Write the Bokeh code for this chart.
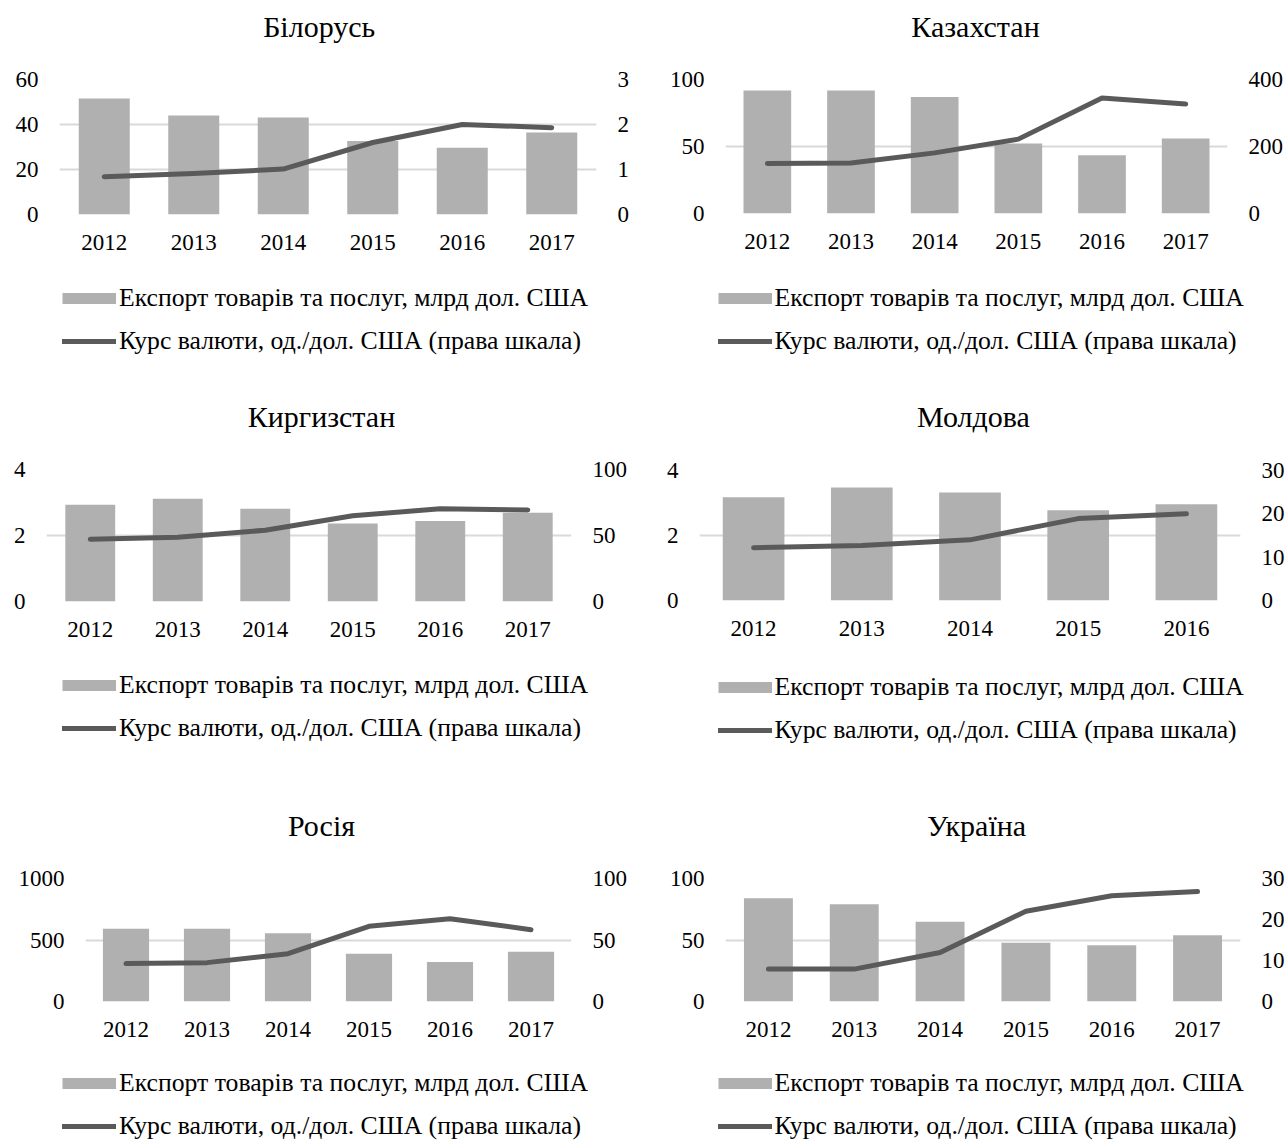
from bokeh.plotting import figure
from bokeh.models import (Range1d, LinearAxis, FixedTicker, Legend, LegendItem,
                          ColumnDataSource, FactorRange, Label, Plot)
from bokeh.layouts import column, row
from bokeh.embed import file_html
from bokeh.resources import INLINE

# ---------------- data ----------------
years6 = ["2012", "2013", "2014", "2015", "2016", "2017"]
years5 = ["2012", "2013", "2014", "2015", "2016"]

belarus_export = [51.6, 44.0, 43.1, 32.7, 29.7, 36.5]
belarus_rate = [0.84, 0.91, 1.01, 1.60, 2.00, 1.93]

kazakhstan_export = [91.8, 91.8, 87.0, 52.2, 43.5, 56.0]
kazakhstan_rate = [149, 151, 181, 222, 345, 327]

kyrgyzstan_export = [2.93, 3.11, 2.81, 2.36, 2.44, 2.69]
kyrgyzstan_rate = [47.2, 48.7, 54.0, 65.0, 70.2, 69.4]

moldova_export = [3.18, 3.48, 3.32, 2.78, 2.96]
moldova_rate = [12.2, 12.7, 14.0, 18.9, 20.0]

russia_export = [592, 592, 554, 389, 322, 405]
russia_rate = [30.8, 31.6, 38.9, 61.1, 67.3, 58.4]

ukraine_export = [84.0, 79.1, 64.8, 47.7, 45.8, 53.9]
ukraine_rate = [7.9, 7.9, 11.95, 22.0, 25.8, 26.8]

legend_export = "Експорт товарів та послуг, млрд дол. США"
legend_rate = "Курс валюти, од./дол. США (права шкала)"

# ---------------- style ----------------
FONT = "Liberation Serif"
BAR = "#b0b0b0"
LINE = "#5a5a5a"
GRID = "#d9d9d9"
TICK_SIZE = "23px"
LEGEND_SIZE = "25.7px"
TITLE_SIZE = "30px"
XAXIS_H = 56
HAS_FRAME_ALIGN = "frame_align" in Plot.properties()


def no_align(p):
    if HAS_FRAME_ALIGN:
        p.frame_align = False


def style_axis(ax, standoff):
    ax.axis_line_color = None
    ax.major_tick_line_color = None
    ax.minor_tick_line_color = None
    ax.major_tick_out = 0
    ax.major_tick_in = 0
    ax.major_label_text_font = FONT
    ax.major_label_text_font_size = TICK_SIZE
    ax.major_label_text_color = "black"
    ax.major_label_standoff = standoff


def blank(width, height):
    p = figure(width=width, height=height, x_range=Range1d(0, width), y_range=Range1d(0, height),
               x_axis_type=None, y_axis_type=None, min_border=0,
               output_backend="svg", toolbar_location=None)
    p.grid.visible = False
    p.outline_line_color = None
    no_align(p)
    return p


def cell(title, years, export, rate, lmax, lticks, rmax, rticks,
         W, H, TH, fw, fh, bl, frame_top, title_cx, title_base, leg_x, leg_top):
    # --- title strip ---
    pt = blank(W, TH)
    pt.add_layout(Label(x=title_cx, y=TH - title_base, text=title,
                        text_align="center", text_baseline="alphabetic",
                        text_font=FONT, text_font_size=TITLE_SIZE, text_color="black"))

    # --- chart ---
    src = ColumnDataSource(dict(year=years, export=export, rate=rate))
    bt = frame_top - TH
    p = figure(x_range=FactorRange(factors=years, range_padding=0),
               y_range=Range1d(0, lmax),
               frame_width=fw, frame_height=fh,
               min_border_left=bl, min_border_right=W - bl - fw,
               min_border_top=bt, min_border_bottom=XAXIS_H,
               output_backend="svg", toolbar_location=None, title=None)
    no_align(p)
    p.extra_y_ranges = {"r": Range1d(0, rmax)}
    p.vbar(x="year", top="export", width=0.57, source=src,
           fill_color=BAR, line_color=None)
    p.line(x="year", y="rate", y_range_name="r", source=src,
           line_color=LINE, line_width=5, line_cap="round", line_join="round")

    p.yaxis.ticker = FixedTicker(ticks=lticks)
    style_axis(p.yaxis[0], 21)
    rax = LinearAxis(y_range_name="r", ticker=FixedTicker(ticks=rticks))
    style_axis(rax, 21)
    p.add_layout(rax, "right")
    style_axis(p.xaxis[0], 20)
    p.xgrid.grid_line_color = None
    p.ygrid.grid_line_color = GRID
    p.ygrid.grid_line_width = 2
    p.outline_line_color = None

    # --- legend strip (legend samples are off-screen proxy renderers) ---
    chart_h = bt + fh + XAXIS_H
    hl = H - TH - chart_h
    pl = blank(W, hl)
    bar_proxy = pl.line(x=[-20, -10], y=[-20, -20], line_color=BAR, line_width=11, line_cap="butt")
    line_proxy = pl.line(x=[-20, -10], y=[-20, -20], line_color=LINE, line_width=5, line_cap="round")
    legend_h = 30 + 13 + 30
    top_off = leg_top - (frame_top + fh + XAXIS_H)
    leg = Legend(items=[LegendItem(label=legend_export, renderers=[bar_proxy]),
                        LegendItem(label=legend_rate, renderers=[line_proxy])],
                 location=(leg_x, hl - top_off - legend_h), orientation="vertical",
                 glyph_width=54, glyph_height=30, label_height=30,
                 spacing=13, padding=0, margin=0, label_standoff=3,
                 border_line_color=None, background_fill_alpha=0,
                 label_text_font=FONT, label_text_font_size=LEGEND_SIZE,
                 label_text_color="black")
    pl.add_layout(leg)
    return column(pt, p, pl, spacing=0)


#                                                                   W    H   TH   fw   fh  bl ftop  tcx  tbase  lx   ltop
c1 = cell("Білорусь", years6, belarus_export, belarus_rate, 60, [0, 20, 40, 60], 3, [0, 1, 2, 3],
          640, 385, 50, 537, 135, 59, 79, 318.7, 26, 62, 283)
c2 = cell("Казахстан", years6, kazakhstan_export, kazakhstan_rate, 100, [0, 50, 100], 400, [0, 200, 400],
          647, 385, 50, 502, 134, 85, 79, 335, 26, 77.6, 283.3)
c3 = cell("Киргизстан", years6, kyrgyzstan_export, kyrgyzstan_rate, 4, [0, 2, 4], 100, [0, 50, 100],
          640, 390, 55, 525, 132, 46, 84, 321, 31, 62, 285)
c4 = cell("Молдова", years5, moldova_export, moldova_rate, 4, [0, 2, 4], 30, [0, 10, 20, 30],
          647, 390, 55, 541, 130, 59, 85, 333, 31, 77.6, 286.7)
c5 = cell("Росія", years6, russia_export, russia_rate, 1000, [0, 500, 1000], 100, [0, 50, 100],
          640, 367, 72, 486, 123, 85, 103, 321, 50, 62, 292.5)
c6 = cell("Україна", years6, ukraine_export, ukraine_rate, 100, [0, 50, 100], 30, [0, 10, 20, 30],
          647, 367, 72, 515, 123, 85, 103, 336, 50, 77.6, 292.5)

layout = column(row(c1, c2, spacing=0), row(c3, c4, spacing=0), row(c5, c6, spacing=0), spacing=0)

open("out.html", "w").write(file_html(layout, INLINE))
